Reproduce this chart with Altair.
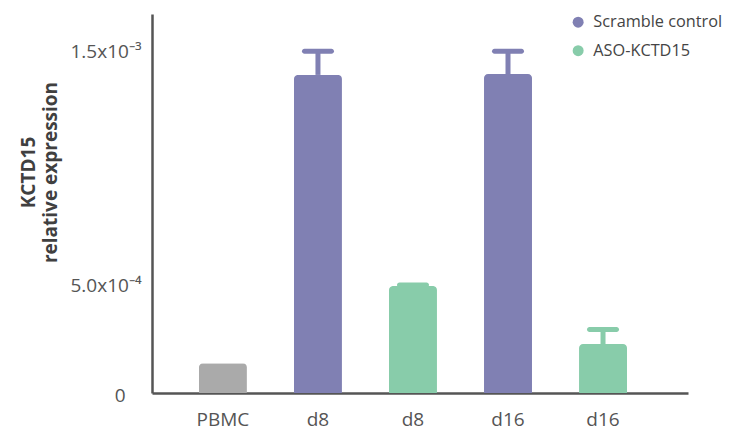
import altair as alt
import pandas as pd

categories = ["PBMC", "d8", "d8", "d16", "d16"]
groups = ["PBMC", "Scramble control", "ASO-KCTD15", "Scramble control", "ASO-KCTD15"]
means = [1.30e-4, 1.391e-3, 4.68e-4, 1.395e-3, 2.14e-4]
err_tops = [None, 1.495e-3, 4.72e-4, 1.495e-3, 2.78e-4]

legend_groups = ["Scramble control", "ASO-KCTD15"]
color_domain = ["Scramble control", "ASO-KCTD15", "PBMC"]
color_range = ["#8080B3", "#88CCAA", "#AAAAAA"]
y_ticks = [0, 0.0005, 0.0015]

ids = [f"{i}|{c}" for i, c in enumerate(categories)]
df = pd.DataFrame({"id": ids, "group": groups, "mean": means, "err": err_tops})
df_err = df.dropna(subset=["err"])

FONT = "Open Sans"

x_scale = alt.Scale(domain=ids, paddingInner=0.495, paddingOuter=0.568, align=0.435)
y_scale = alt.Scale(domain=[0, 1.6574e-3], nice=False)

x_axis = alt.Axis(
    title=None, ticks=False, labelAngle=0, labelAlign="center", labelFont=FONT, labelFontSize=19,
    labelColor="#555555", labelBaseline="alphabetic", labelPadding=32,
    labelExpr="split(datum.label, '|')[1]", domainColor="#555555",
    domainWidth=2.5, grid=False,
)
y_axis = alt.Axis(
    title=["KCTD15", "relative expression"], values=y_ticks, ticks=False, grid=False,
    labelFont=FONT, labelFontSize=19, labelColor="#555555", labelBaseline="alphabetic",
    labelAlign="right",
    labelExpr="datum.value == 0 ? '0' : (datum.value < 0.001 ? '5.0x10⁻⁴' : '1.5x10⁻³')",
    labelOffset=alt.condition("datum.value > 0.0004 && datum.value < 0.0006", alt.value(13), alt.value(8)),
    labelPadding=alt.condition("datum.value == 0", alt.value(27), alt.value(11)),
    domainColor="#555555", domainWidth=2.5,
    titleFont=FONT, titleFontSize=19, titleFontWeight="bold", titleColor="#404040",
    titleAngle=270, titleAlign="center", titleBaseline="alphabetic",
    titleLineHeight=22, titleX=-118, titleY=158,
)

bars = alt.Chart(df).mark_bar(cornerRadiusTopLeft=4, cornerRadiusTopRight=4).encode(
    x=alt.X("id:N", scale=x_scale, axis=x_axis, sort=ids),
    y=alt.Y("mean:Q", scale=y_scale, axis=y_axis),
    color=alt.Color(
        "group:N",
        scale=alt.Scale(domain=color_domain, range=color_range),
        legend=alt.Legend(
            values=legend_groups, title=None, orient="none", legendX=418, legendY=0,
            symbolType="circle", symbolSize=120, symbolStrokeWidth=0, symbolOpacity=1,
            labelFont=FONT, labelFontSize=16.3, labelColor="#444444", labelOffset=7,
            rowPadding=11.5, padding=0, direction="vertical",
        ),
    ),
)

stems = alt.Chart(df_err).mark_rule(strokeWidth=5).encode(
    x=alt.X("id:N", scale=x_scale, sort=ids),
    y=alt.Y("mean:Q", scale=y_scale),
    y2="err:Q",
    color=alt.Color("group:N", scale=alt.Scale(domain=color_domain, range=color_range)),
)

caps = alt.Chart(df_err).mark_tick(thickness=5, size=32, cornerRadius=2.5, opacity=1).encode(
    x=alt.X("id:N", scale=x_scale, sort=ids),
    y=alt.Y("err:Q", scale=y_scale),
    color=alt.Color("group:N", scale=alt.Scale(domain=color_domain, range=color_range)),
)

chart = alt.layer(stems, caps, bars).properties(
    width=536, height=379,
    padding={"left": 152, "top": 14, "right": 51, "bottom": 34},
    autosize=alt.AutoSizeParams(type="none"),
    background="white",
).configure_view(stroke=None)

chart.save("out.html", embed_options={"renderer": "svg", "actions": False})
